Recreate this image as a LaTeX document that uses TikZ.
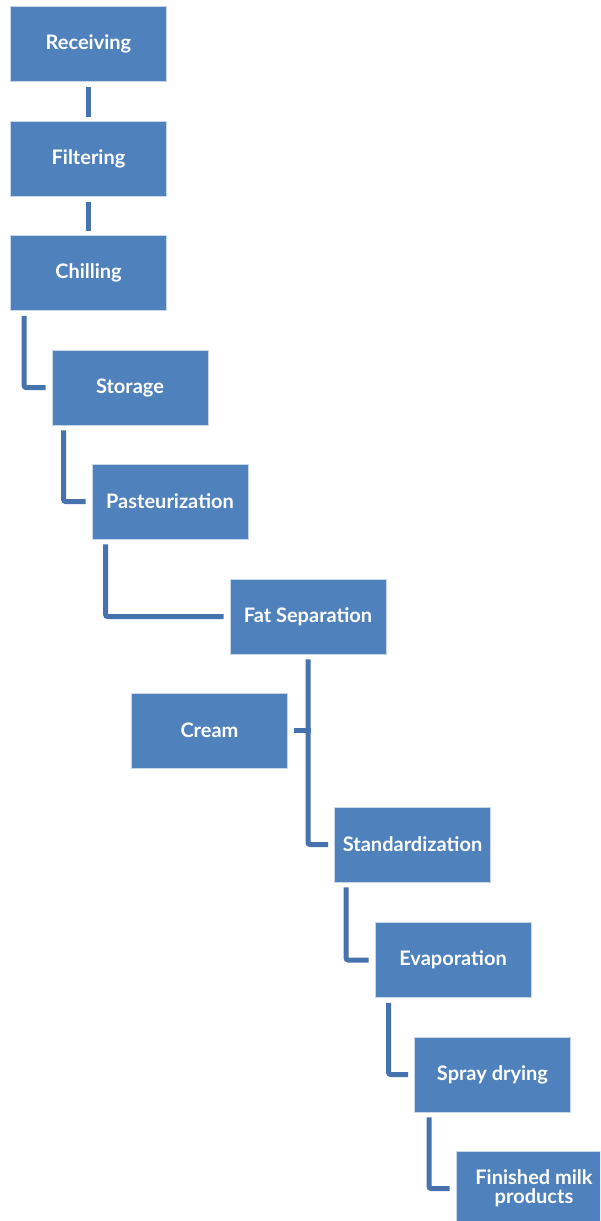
\documentclass[tikz,border=0pt]{standalone}
\usepackage{fontspec}
\setmainfont{Lato}
\begin{document}
\begin{tikzpicture}[x=1pt,y=-1pt,
  stepbox/.style={draw=boxline, line width=0.8pt, fill=boxfill, text=white,
    minimum width=156pt, minimum height=75pt, inner sep=2pt, align=center,
    font=\fontsize{20}{20}\selectfont\bfseries},
  conn/.style={draw=connc, line width=5pt, rounded corners=2pt}]
\definecolor{boxfill}{HTML}{4F81BD}
\definecolor{boxline}{HTML}{C9D6E8}
\definecolor{connc}{HTML}{4672AE}
\useasboundingbox (0,0) rectangle (600,1221);
\clip (0,0) rectangle (600,1221);
\node[stepbox] (rec) at (88.5,43.5) {Receiving};
\node[stepbox] (fil) at (88.5,158.5) {Filtering};
\node[stepbox] (chi) at (88.5,273) {Chilling};
\node[stepbox] (sto) at (130,387.5) {Storage};
\node[stepbox] (pas) at (170,501.5) {Pasteurization};
\node[stepbox] (fat) at (308,616.5) {Fat Separation};
\node[stepbox] (cre) at (209.5,730.5) {Cream};
\node[stepbox] (std) at (412.5,844.5) {Standardization};
\node[stepbox] (eva) at (453,960) {Evaporation};
\node[stepbox] (spr) at (492.5,1074.5) {Spray drying};
\node[stepbox] (fin) at (534,1188.5) {Finished milk\\[-1pt]products};
\draw[conn] ([yshift=-6pt]rec.south) -- ([yshift=4pt]fil.north);
\draw[conn] ([yshift=-6pt]fil.south) -- ([yshift=4pt]chi.north);
\draw[conn] ([xshift=14pt,yshift=-5pt]chi.south west) |- ([xshift=-6pt]sto.west);
\draw[conn] ([xshift=12pt,yshift=-5pt]sto.south west) |- ([xshift=-6pt]pas.west);
\draw[conn] ([xshift=14pt,yshift=-5pt]pas.south west) |- ([xshift=-6pt]fat.west);
\draw[conn] ([yshift=-5pt]fat.south) |- ([xshift=-6pt]std.west);
\coordinate (cj) at (fat.south |- cre.east);
\draw[conn] ([xshift=6pt]cre.east) -- ([xshift=2.5pt]cj);
\draw[conn] ([xshift=12pt,yshift=-5pt]std.south west) |- ([xshift=-6pt]eva.west);
\draw[conn] ([xshift=14pt,yshift=-5pt]eva.south west) |- ([xshift=-6pt]spr.west);
\draw[conn] ([xshift=15pt,yshift=-5pt]spr.south west) |- ([xshift=-6pt]fin.west);
\end{tikzpicture}
\end{document}
